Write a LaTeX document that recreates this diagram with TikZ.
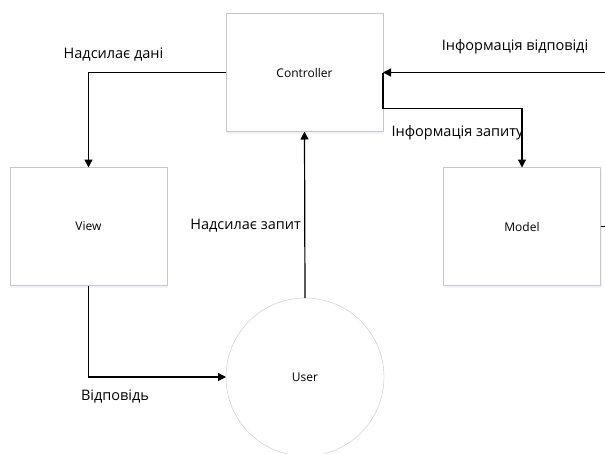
\documentclass[tikz,border=0pt]{standalone}
\usepackage{fontspec}
\setmainfont{Open Sans}
\usetikzlibrary{arrows.meta,shadows,positioning}
\tikzset{
  base/.style={font=\fontsize{12}{14}\selectfont, align=center, inner sep=2pt, outer sep=0mm},
  block/.style={rectangle, draw=black!22, minimum width=157pt, minimum height=118pt, fill=white, drop shadow={opacity=0.12, shadow xshift=1pt, shadow yshift=-2.5pt, fill=blue!40}, base},
  user/.style={circle, draw=black!22, minimum size=158pt, fill=white, base},
  note/.style={font=\fontsize{14.5}{17}\selectfont, inner sep=1pt},
  arrow/.style={-{Triangle[length=8pt, width=8pt]}, line width=1.2pt, color=black}
}

\begin{document}
\begin{tikzpicture}[x=1pt, y=-1pt]
    \clip (0,0) rectangle (605,453);
    \fill[white] (0,0) rectangle (605,453);

    \node[block] (ctrl) at (304.5,72.5) {Controller};
    \node[block] (view) at (88.5,226.5) {View};
    \node[block] (model) at (522,226.5) {Model};
    \node[user] (user) at (305,377) {User};
    \coordinate (rim) at (625,0);

    \draw[arrow] (ctrl.west) -| (view.north);
    \draw[arrow] (view.south) |- (user.west);
    \draw[arrow] (user.north) -- (ctrl.south);
    \draw[arrow] (model.east) -- (model.east -| rim) |- (ctrl.east);
    \draw[arrow] (ctrl.east) -- ++(0,36) -| (model.north);

    \node[note] (sends) at (113.5,55) {Надсилає дані};
    \node[note, anchor=east] (asks) at (302,226) {Надсилає запит};
    \node[note] (reply) at (115,397) {Відповідь};
    \node[note] (answer) at (515,47) {Інформація відповіді};
    \node[note] (query) at (457.5,133) {Інформація запиту};
  \end{tikzpicture}
\end{document}
